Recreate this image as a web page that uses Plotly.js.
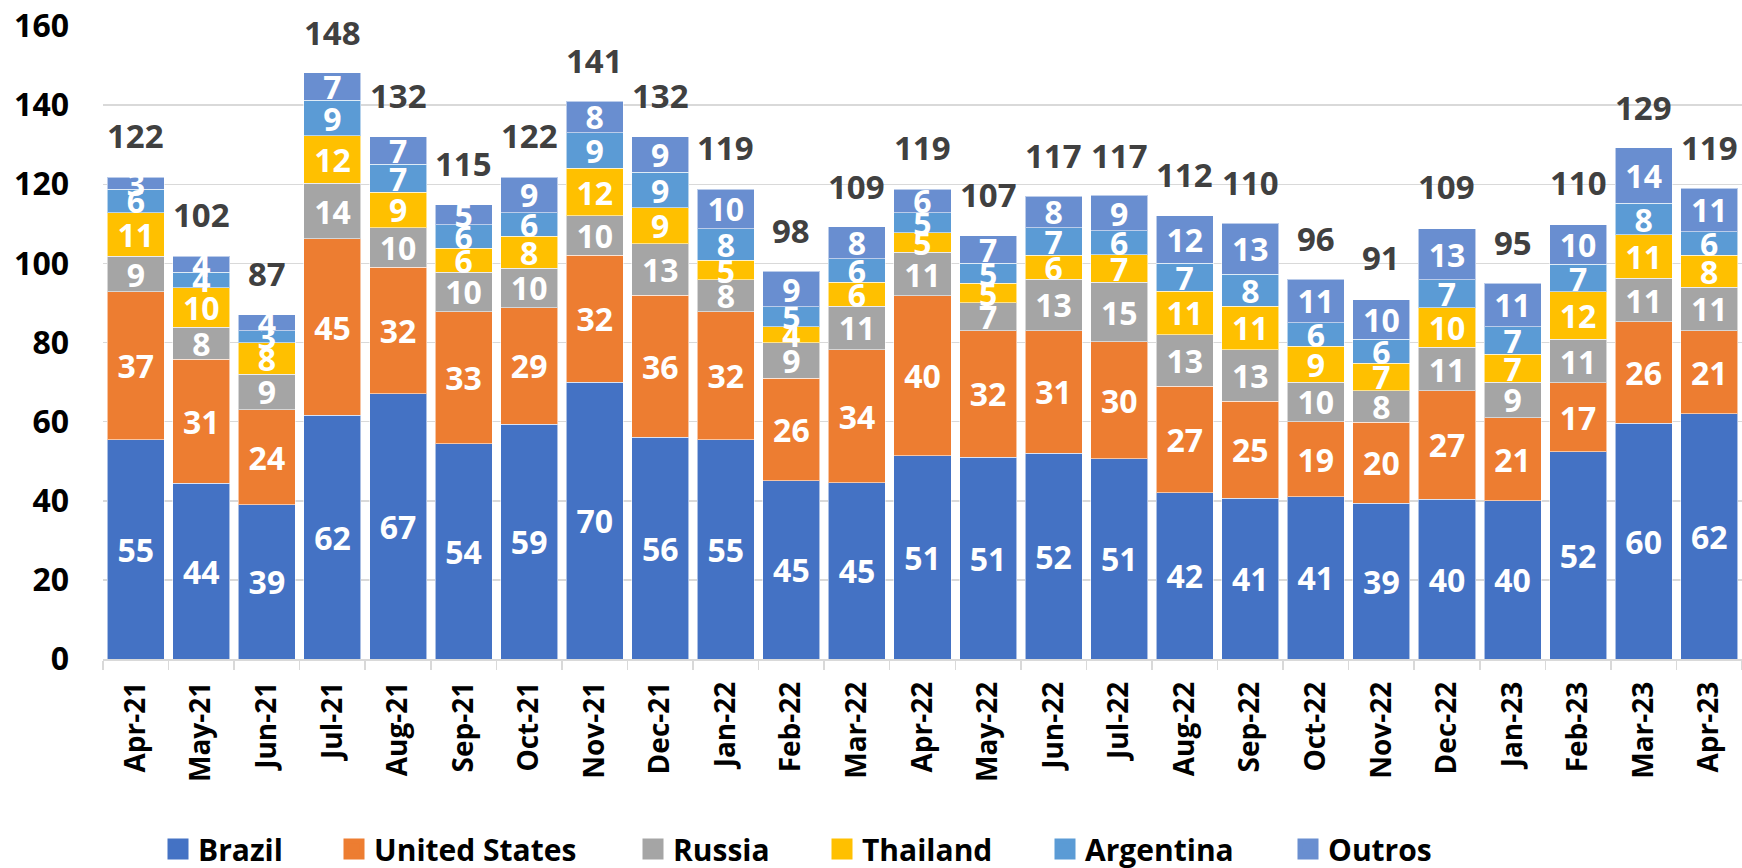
<!DOCTYPE html>
<html><head><meta charset="utf-8">
<script src="https://cdn.plot.ly/plotly-3.0.1.min.js"></script>
<style>html,body{margin:0;padding:0;background:#fff}#chart{width:1742px;height:868px}</style>
</head><body><div id="chart"></div>
<script>
const months = ['Apr-21','May-21','Jun-21','Jul-21','Aug-21','Sep-21','Oct-21','Nov-21','Dec-21','Jan-22','Feb-22','Mar-22','Apr-22','May-22','Jun-22','Jul-22','Aug-22','Sep-22','Oct-22','Nov-22','Dec-22','Jan-23','Feb-23','Mar-23','Apr-23'];
const brazil    = [55.4,44.4,39,61.6,67,54.4,59.4,70,56,55.4,45,44.6,51.4,51,52,50.6,42,40.6,41,39.4,40.4,40,52.4,59.6,62];
const usa       = [37.4,31.4,24,44.6,32,33.4,29.4,32,36,32.4,26,33.6,40.4,32,31,29.6,27,24.6,19,20.4,27.4,21,17.4,25.6,21];
const russia    = [9,8,9,14,10,10,10,10,13,8,9,11,11,7,13,15,13,13,10,8,11,9,11,11,11];
const thailand  = [11,10,8,12,9,6,8,12,9,5,4,6,5,5,6,7,11,11,9,7,10,7,12,11,8];
const argentina = [6,4,3,9,7,6,6,9,9,8,5,6,5,5,7,6,7,8,6,6,7,7,7,8,6];
const outros    = [3,4,4,7,7,5,9,8,9,10,9,8,6,7,8,9,12,13,11,10,13,11,10,14,11];
const totals    = [122,102,87,148,132,115,122,141,132,119,98,109,119,107,117,117,112,110,96,91,109,95,110,129,119];
const seriesNames = ['Brazil','United States','Russia','Thailand','Argentina','Outros'];

const seriesData = [brazil, usa, russia, thailand, argentina, outros];
const colors = ['#4472C4','#ED7D31','#A5A5A5','#FFC000','#5B9BD5','#698ED0'];
const FONT = 'Open Sans, Noto Sans, sans-serif';
const legendLeft = [168,344,643,832,1055,1298];

const traces = [];
seriesData.forEach((vals, i) => {
  traces.push({
    type: 'bar', x: months, y: vals, name: seriesNames[i], showlegend: false,
    marker: {color: colors[i], line: {color: 'rgba(255,255,255,0.55)', width: 1}},
    texttemplate: '%{y:.0f}', textposition: 'inside', insidetextanchor: 'middle',
    textangle: 0, constraintext: 'none', cliponaxis: false,
    insidetextfont: {family: FONT, size: 32, color: '#ffffff', weight: 700},
    hoverinfo: 'x+y+name'
  });
});
seriesData.forEach((vals, i) => {
  traces.push({
    type: 'scatter', mode: 'markers', x: [null], y: [null], name: seriesNames[i],
    legend: i === 0 ? 'legend' : 'legend' + (i + 1), showlegend: true,
    marker: {symbol: 'square', size: 16, color: colors[i], line: {color: colors[i], width: 5}}
  });
});

const annotations = months.map((m, i) => ({
  x: m, y: totals[i], xref: 'x', yref: 'y', text: String(totals[i]),
  showarrow: false, yanchor: 'middle', yshift: 41,
  font: {family: FONT, size: 33, color: '#404040', weight: 700}
}));

const layout = {
  width: 1742, height: 868,
  margin: {l: 103, r: 0, t: 26, b: 209},
  paper_bgcolor: '#ffffff', plot_bgcolor: '#ffffff',
  barmode: 'stack', bargap: 0.13,
  xaxis: {
    type: 'category', range: [-0.5, 24.5], showgrid: false, zeroline: false,
    showline: true, linecolor: '#d9d9d9', linewidth: 1.5,
    ticks: 'outside', tickson: 'boundaries', ticklen: 9, tickwidth: 1.5, tickcolor: '#d9d9d9',
    tickangle: -90, ticklabelstandoff: 10,
    tickfont: {family: FONT, size: 28, color: '#000000', weight: 700}
  },
  yaxis: {
    range: [0, 160], dtick: 20, tick0: 0, showgrid: true, gridcolor: '#d9d9d9', gridwidth: 1.5,
    zeroline: false, showline: false, ticks: '', ticklabelstandoff: 33,
    tickfont: {family: FONT, size: 32, color: '#000000', weight: 700}
  },
  annotations: annotations,
  font: {family: FONT}
};
seriesNames.forEach((n, i) => {
  const key = i === 0 ? 'legend' : 'legend' + (i + 1);
  layout[key] = {
    xref: 'container', yref: 'container', x: (legendLeft[i] - 10) / 1742, y: 1 - 849 / 868,
    xanchor: 'left', yanchor: 'middle', orientation: 'h', bgcolor: 'rgba(0,0,0,0)', borderwidth: 0,
    font: {family: FONT, size: 30, color: '#000000', weight: 700}
  };
});

Plotly.newPlot('chart', traces, layout, {displayModeBar: false, staticPlot: true});
</script>
</body></html>
